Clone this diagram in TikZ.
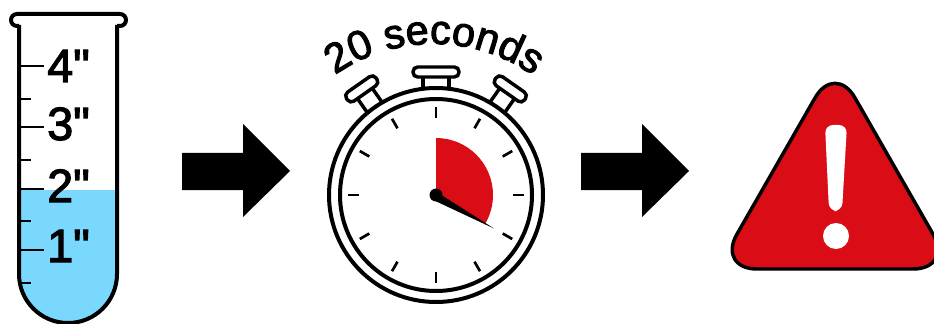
\documentclass[tikz,border=0pt]{standalone}
\usepackage{fontspec}
\setmainfont{Liberation Sans}
\newfontfamily\labelfont[FakeBold=2.5]{Liberation Sans}
\usetikzlibrary{decorations.text}
\definecolor{waterblue}{RGB}{122,216,255}
\definecolor{alertred}{RGB}{218,12,22}
\tikzset{
tube line/.style={line width=3pt, color=black},
watch line/.style={line width=3pt, color=black},
button line/.style={line width=2.6pt, color=black},
tick line/.style={line width=2pt, color=black},
inch label/.style={anchor=base west, inner sep=0pt, font=\labelfont\fontsize{35}{35}\selectfont, color=black}}

\begin{document}
\begin{tikzpicture}[x=0.75pt,y=0.75pt,yscale=-1,xscale=1]
\useasboundingbox (0,0) rectangle (934,324);

%Shape: Water
\fill [waterblue] (19,190) -- (117,190) -- (117,274) arc [start angle=0, end angle=180, radius=49] -- cycle ;
%Shape: Tube
\draw [tube line] (19,25) -- (19,274) arc [start angle=180, end angle=0, radius=49] -- (117,25) ;
\draw [tube line, rounded corners=4.5pt] (19,26) -- (11,26) -- (11,14) -- (126,14) -- (126,26) -- (117,26) ;
%Straight Lines: tube ticks
\foreach \y in {66,127,189,250} \draw [tick line] (19,\y) -- (44,\y) ;
\foreach \y in {99,160,221,283} \draw [tick line] (19,\y) -- (31,\y) ;

% Text Node
\node [inch label] (inch4) at (47,82) {4"};
% Text Node
\node [inch label] (inch3) at (47,140) {3"};
% Text Node
\node [inch label] (inch2) at (47,202) {2"};
% Text Node
\node [inch label] (inch1) at (47,262) {1"};

%Shape: Block Arrows
\foreach \x in {182,581} \fill [black] (\x,153) -- (\x+61,153) -- (\x+61,124) -- (\x+108,171) -- (\x+61,217) -- (\x+61,190) -- (\x,190) -- cycle ;

%Shape: Stopwatch buttons
\begin{scope}[shift={(436,195)}]
\draw [button line] (-13,-105) -- (-13,-118) (13,-118) -- (13,-105) ;
\draw [button line, rounded corners=3.5pt] (-23,-128) rectangle (23,-118) ;
\foreach \a in {-35,35} {
\begin{scope}[rotate=\a]
\draw [button line] (-9,-105) -- (-9,-124) (9,-124) -- (9,-105) ;
\draw [button line, rounded corners=3.5pt] (-18,-135) rectangle (18,-124) ;
\end{scope}
}
%Shape: Stopwatch body
\draw [watch line, fill=white] (0,0) circle [radius=107] ;
\draw [watch line] (0,0) circle [radius=96] ;
%Straight Lines: watch ticks
\foreach \a in {0,30,...,330} \draw [tick line] (\a:77) -- (\a:88) ;
%Shape: Sector
\fill [alertred] (0,0) -- (0,-57) arc [start angle=-90, end angle=30, radius=57] -- cycle ;
%Shape: Hand
\fill [black] (-2.5,-5) -- (58,33.5) -- (-5,4) -- cycle ;
\fill [black] (0,0) circle [radius=6.5] ;
\end{scope}

% Text along arc
\path [decorate, decoration={text along path, text align={fit to path}, text={|\labelfont\fontsize{31}{31}\selectfont|20 seconds}}] (335,75) arc [start angle=-125, end angle=-56, radius=172] ;

%Shape: Warning triangle
\draw [line width=2.6pt, color=black, fill=alertred, rounded corners=30pt] (835,63) -- (953,269) -- (717,269) -- cycle ;
%Shape: Exclamation mark
\fill [white, rounded corners=6pt] (825,125) -- (847,125) -- (842,211) -- (829,211) -- cycle ;
\fill [white] (836,236) circle [radius=13] ;

\end{tikzpicture}
\end{document}
